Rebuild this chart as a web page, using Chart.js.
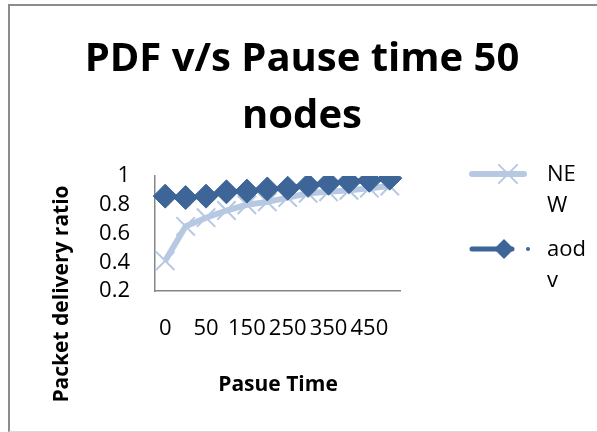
<!DOCTYPE html>
<html>
<head>
<meta charset="utf-8">
<script src="https://cdn.jsdelivr.net/npm/chart.js@4/dist/chart.umd.min.js"></script>
<style>
  body { margin: 0; background: #fff; }
  #frame {
    position: absolute; left: 8px; top: 4px; width: 620px; height: 425px;
    border-left: 2px solid #8c8c8c; border-top: 2px solid #8c8c8c;
    border-bottom: 1px solid #d9d9d9;
  }
  #myChart { position: absolute; left: 0; top: 0; }
</style>
</head>
<body>
<div id="frame"></div>
<canvas id="myChart" width="597" height="432"></canvas>
<script>
// pause time categories (only every other one gets a label)
let pauseTimes = ["0", "10", "50", "100", "150", "200", "250", "300", "350", "400", "450", "500"];

let newValues  = [0.41, 0.65, 0.71, 0.76, 0.80, 0.82, 0.85, 0.88, 0.89, 0.90, 0.915, 0.93];
let aodvValues = [0.86, 0.85, 0.86, 0.89, 0.895, 0.91, 0.915, 0.935, 0.95, 0.96, 0.97, 0.985];

let titleLines = ["PDF v/s Pause time 50", "nodes"];
let xTitle = "Pasue Time";
let yTitle = "Packet delivery ratio";
let legendLines = [["NE", "W"], ["aod", "v"]];

const newColor = "#b7c8e2";
const aodvColor = "#3d6597";
const font = "'Open Sans', sans-serif";

function drawMarker(ctx, style, x, y, r, color) {
  ctx.save();
  ctx.strokeStyle = color;
  ctx.fillStyle = color;
  if (style == "crossRot") {
    ctx.lineWidth = 2;
    ctx.beginPath();
    ctx.moveTo(x - r * 0.7, y - r * 0.7); ctx.lineTo(x + r * 0.7, y + r * 0.7);
    ctx.moveTo(x + r * 0.7, y - r * 0.7); ctx.lineTo(x - r * 0.7, y + r * 0.7);
    ctx.stroke();
  } else {
    ctx.beginPath();
    ctx.moveTo(x, y - r); ctx.lineTo(x + r, y); ctx.lineTo(x, y + r); ctx.lineTo(x - r, y);
    ctx.closePath();
    ctx.fill();
  }
  ctx.restore();
}

const textPlugin = {
  id: "texts",
  afterDraw(chart) {
    const ctx = chart.ctx;
    ctx.save();
    ctx.fillStyle = "#000";

    // title
    ctx.textAlign = "center";
    ctx.textBaseline = "alphabetic";
    ctx.font = "bold 40px " + font;
    titleLines.forEach((t, i) => ctx.fillText(t, 302, 71 + i * 57));

    // axis titles
    ctx.font = "bold 21px " + font;
    ctx.textBaseline = "middle";
    ctx.fillText(xTitle, 278, 385);
    ctx.save();
    ctx.translate(62, 294);
    ctx.rotate(-Math.PI / 2);
    ctx.fillText(yTitle, 0, 0);
    ctx.restore();

    // legend
    const ys = [174, 249];
    ctx.textAlign = "left";
    ctx.font = "22px " + font;
    chart.data.datasets.forEach((ds, i) => {
      const y = ys[i];
      ctx.strokeStyle = ds.borderColor;
      ctx.lineWidth = ds.borderWidth;
      ctx.lineCap = "round";
      ctx.beginPath();
      ctx.moveTo(472, y);
      ctx.lineTo(i == 0 ? 524 : 512, y);
      ctx.stroke();
      drawMarker(ctx, ds.pointStyle, i == 0 ? 508 : 504, y, i == 0 ? 13 : 10, ds.borderColor);
      if (i == 1) {
        ctx.fillStyle = ds.borderColor;
        ctx.beginPath(); ctx.arc(528, y, 2, 0, Math.PI * 2); ctx.fill();
      }
      ctx.fillStyle = "#000";
      legendLines[i].forEach((t, j) => ctx.fillText(t, 547, y + 1 + j * 31));
    });
    ctx.restore();
  }
};

new Chart("myChart", {
  type: "line",
  data: {
    labels: pauseTimes,
    datasets: [
      {
        label: "NEW",
        data: newValues,
        borderColor: newColor,
        backgroundColor: newColor,
        borderWidth: 6,
        pointStyle: "crossRot",
        pointRadius: 13,
        pointBorderWidth: 2,
        pointBorderColor: newColor,
        order: 1
      },
      {
        label: "aodv",
        data: aodvValues,
        borderColor: aodvColor,
        backgroundColor: aodvColor,
        borderWidth: 5,
        pointStyle: "rectRot",
        pointRadius: 12,
        pointBorderWidth: 1,
        pointBorderColor: aodvColor,
        order: 0
      }
    ]
  },
  options: {
    responsive: false,
    animation: false,
    devicePixelRatio: 1,
    layout: { padding: { left: 0, top: 176, right: 197, bottom: 0 } },
    plugins: {
      legend: { display: false },
      tooltip: { enabled: false },
      title: { display: false }
    },
    scales: {
      x: {
        type: "category",
        offset: true,
        grid: { display: false, drawTicks: false },
        border: { display: true, color: "#868686", width: 1.5 },
        ticks: {
          autoSkip: false,
          maxRotation: 0,
          padding: 25,
          color: "#000",
          font: { family: font, size: 22 },
          callback: function (v, i) { return i % 2 == 0 ? this.getLabelForValue(v) : ""; }
        },
        afterFit: (s) => { s.height = 141; }
      },
      y: {
        min: 0.2,
        max: 1,
        grid: { display: false, drawTicks: false },
        border: { display: true, color: "#868686", width: 1.5 },
        ticks: {
          stepSize: 0.2,
          autoSkip: false,
          padding: 25,
          color: "#000",
          font: { family: font, size: 22 },
          callback: (v) => String(+v.toFixed(1))
        },
        afterFit: (s) => { s.width = 155; }
      }
    }
  },
  plugins: [textPlugin]
});
</script>
</body>
</html>
